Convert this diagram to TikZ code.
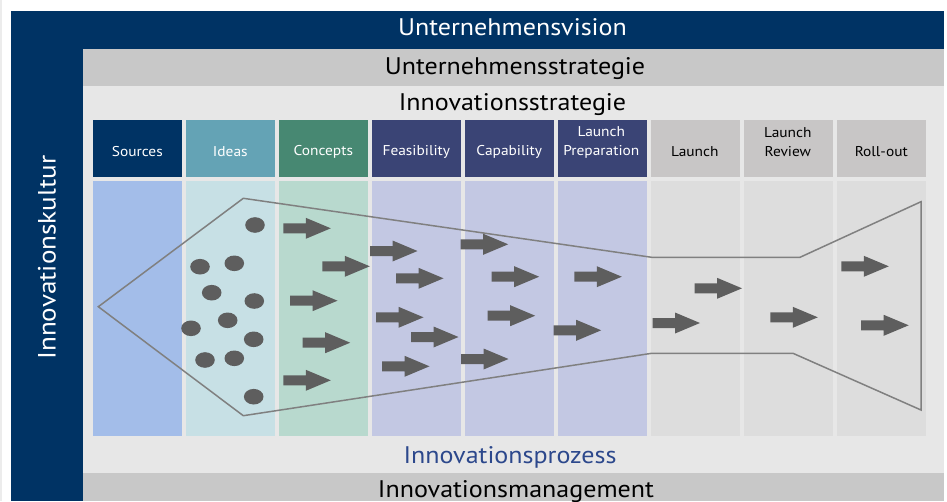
\documentclass[tikz,border=0pt]{standalone}
\usepackage{fontspec}
\setmainfont{PT Sans}[FakeStretch=1.085]
\definecolor{navy}{RGB}{0,51,100}
\definecolor{bandgray}{RGB}{200,200,200}
\definecolor{lightbg}{RGB}{231,231,231}
\definecolor{edgegray}{RGB}{236,236,236}
\definecolor{srcH}{RGB}{0,51,100}
\definecolor{ideaH}{RGB}{100,163,181}
\definecolor{concH}{RGB}{71,136,114}
\definecolor{feasH}{RGB}{58,68,117}
\definecolor{launchH}{RGB}{200,198,198}
\definecolor{srcL}{RGB}{163,189,233}
\definecolor{ideaL}{RGB}{199,224,229}
\definecolor{concL}{RGB}{184,217,206}
\definecolor{feasL}{RGB}{195,200,227}
\definecolor{launchL}{RGB}{221,221,221}
\definecolor{procblue}{RGB}{44,72,140}
\definecolor{arrowgray}{RGB}{94,94,94}
\definecolor{funnelgray}{RGB}{128,128,128}
\tikzset{
  title/.style={anchor=base, inner sep=0pt, font=\fontsize{24}{28}\selectfont},
  stagelabel/.style={inner sep=0pt, align=center, font=\fontsize{14.2}{19}\selectfont},
  funnel/.style={draw=funnelgray, line width=1.5pt, line join=miter},
  dot/.style={fill=arrowgray},
  barrow/.pic={\fill[arrowgray] (0,-5) -- (22.5,-5) -- (22.5,-10.5) -- (47.5,0) -- (22.5,10.5) -- (22.5,5) -- (0,5) -- cycle;}
}
\begin{document}
\begin{tikzpicture}[x=1pt,y=-1pt]
\useasboundingbox (0,0) rectangle (947,501);
\fill[white] (0,0) rectangle (947,501);
\fill[edgegray] (0,0) rectangle (2,501);
\fill[navy] (11,11) rectangle (944,501);
\fill[bandgray] (83,49) rectangle (944,86);
\fill[lightbg] (83,86) rectangle (944,473);
\fill[bandgray] (83,473) rectangle (944,501);
% titles
\node[title, text=white] (vision) at (512.5,35) {Unternehmensvision};
\node[title] (ustrat) at (515,74) {Unternehmensstrategie};
\node[title] (istrat) at (512.5,110) {Innovationsstrategie};
\node[title, text=procblue] (iproz) at (510,463) {Innovationsprozess};
\node[title] (imgmt) at (516,497.5) {Innovationsmanagement};
\node[title, anchor=center, rotate=90, text=white, font=\fontsize{25}{29}\selectfont] (kultur) at (47,257.5) {Innovationskultur};
% columns
\foreach \i/\hc/\lc in {0/srcH/srcL,1/ideaH/ideaL,2/concH/concL,3/feasH/feasL,4/feasH/feasL,5/feasH/feasL,6/launchH/launchL,7/launchH/launchL,8/launchH/launchL}{
  \fill[\hc] ({92.8+93*\i},119.5) rectangle ++(89,57.5);
  \fill[\lc] ({92.8+93*\i},181) rectangle ++(89,255);
}
% stage labels
\node[stagelabel, text=white] (s0) at (137.3,151.5) {Sources};
\node[stagelabel, text=white] (s1) at (230.3,151.5) {Ideas};
\node[stagelabel, text=white] (s2) at (323.3,151.5) {Concepts};
\node[stagelabel, text=white] (s3) at (416.3,151.5) {Feasibility};
\node[stagelabel, text=white] (s4) at (509.3,151.5) {Capability};
\node[stagelabel, text=white] (s5) at (601.3,142.5) {Launch\\Preparation};
\node[stagelabel] (s6) at (694.8,151.5) {Launch};
\node[stagelabel] (s7) at (787.8,142.5) {Launch\\Review};
\node[stagelabel] (s8) at (881.3,151.5) {Roll-out};
% funnel
\draw[funnel] (98.3,306.7) -- (243.3,198.3) -- (651.7,257.3) -- (800,257.3) -- (921,201.7) -- (921,410) -- (793,353.3) -- (651.7,353.3) -- (243.3,415.7) -- cycle;
% ideas (dots)
\foreach \x/\y in {255/225, 200/266.7, 234.3/263.3, 211.7/292.7, 254.3/301, 191/328.3, 227.7/320.3, 253.7/339.3, 205/360, 234.3/358.3, 253.7/396.7}{
  \fill[dot] (\x,\y) ellipse [x radius=9.8, y radius=7.8];
}
% arrows
\foreach \x/\y in {283.3/228.3, 322.3/266.3, 290/300.7, 302.7/342.7, 283.3/380.3,
  370/251, 396/278.3, 376/317.3, 411/337, 382/366.3,
  460.7/244.3, 491.7/276.7, 487.7/315.7, 461/359,
  574.3/276.7, 553.7/330.3,
  652.5/323, 694.5/288.3, 770.3/317.3, 841.3/266.3, 861.2/325.3}{
  \pic at (\x,\y) {barrow};
}
\end{tikzpicture}
\end{document}
